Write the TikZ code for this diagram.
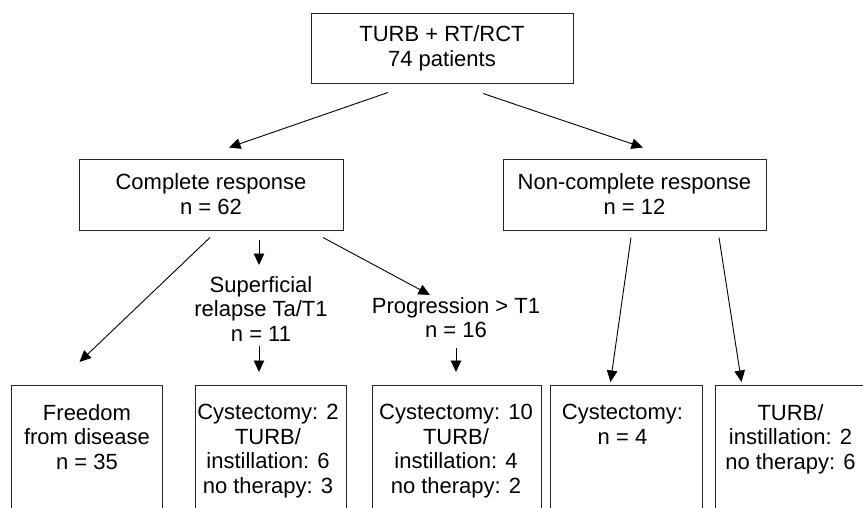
\documentclass[tikz,border=0pt]{standalone}
\usepackage{fontspec}
\setmainfont{Liberation Sans}
\usetikzlibrary{arrows.meta,calc}
\begin{document}
\begin{tikzpicture}[x=1pt,y=-1pt,
  box/.style={draw=black!85,line width=1pt,inner sep=0pt,align=center,
    font=\fontsize{22}{25}\selectfont},
  lbl/.style={inner sep=0pt,align=center,font=\fontsize{22}{24.5}\selectfont},
  arr/.style={line width=0.9pt,-{Triangle[length=11.5pt,width=10.5pt]}}]
\clip (0,0) rectangle (863,507);
\fill[white] (0,0) rectangle (863,507);
% boxes
\node[box,minimum width=262,minimum height=70] (top) at (442,48) {TURB + RT/RCT\\74 patients};
\node[box,minimum width=264,minimum height=71] (cr) at (211,194.5) {Complete response\\n = 62};
\node[box,minimum width=263,minimum height=71] (ncr) at (634.5,194.5) {Non-complete response\\n = 12};
% intermediate labels
\node[lbl,anchor=north] (sup) at (261,276) {Superficial\\relapse Ta/T1\\n = 11};
\node[lbl,anchor=north] (prog) at (456,297) {Progression > T1\\n = 16};
% bottom boxes (cut at the lower edge)
\node[box,minimum width=151,minimum height=150,anchor=north west] (b1) at (11,385) {};
\node[box,minimum width=151,minimum height=150,anchor=north west] (b2) at (195,385) {};
\node[box,minimum width=169,minimum height=150,anchor=north west] (b3) at (372,385) {};
\node[box,minimum width=152,minimum height=150,anchor=north west] (b4) at (550,385) {};
\node[box,minimum width=150,minimum height=150,anchor=north west] (b5) at (715,385) {};
\node[lbl,anchor=north] (t1) at ($(b1.north)+(0,19)$) {Freedom\\from disease\\n = 35};
\node[lbl,anchor=north] (t2) at ($(b2.north)+(-3,19)$) {Cystectomy: 2\\TURB/\\instillation: 6\\no therapy: 3};
\node[lbl,anchor=north] (t3) at ($(b3.north)+(-1,19)$) {Cystectomy: 10\\TURB/\\instillation: 4\\no therapy: 2};
\node[lbl,anchor=north] (t4) at ($(b4.north)+(-4,19)$) {Cystectomy:\\n = 4};
\node[lbl,anchor=north] (t5) at ($(b5.north)+(0,19)$) {TURB/\\instillation: 2\\no therapy: 6};
% connectors
\draw[arr] ($(top.south)+(-54,9)$) -- ($(cr.north)+(18,-11)$);
\draw[arr] ($(top.south)+(41,10)$) -- ($(ncr.north)+(8.5,-11)$);
\draw[arr] ($(cr.south)+(-1,7)$) -- ($(b1.north)+(-7.5,-23)$);
\draw[arr] ($(cr.south -| sup.north)+(-2,9)$) -- ($(sup.north)+(-2,-11)$);
\draw[arr] ($(cr.south)+(112,7)$) -- ($(prog.north)+(-26,-2)$);
\draw[arr] ($(sup.south)+(-2,5)$) -- ($(sup.south |- b2.north)+(-2,-13)$);
\draw[arr] ($(prog.south)+(0,10)$) -- ($(prog.south |- b3.north)+(0,-13)$);
\draw[arr] ($(ncr.south)+(-3.5,7)$) -- ($(b4.north)+(-16,-3)$);
\draw[arr] ($(ncr.south)+(84.5,7)$) -- ($(b5.north)+(-49,-3)$);
\end{tikzpicture}
\end{document}
